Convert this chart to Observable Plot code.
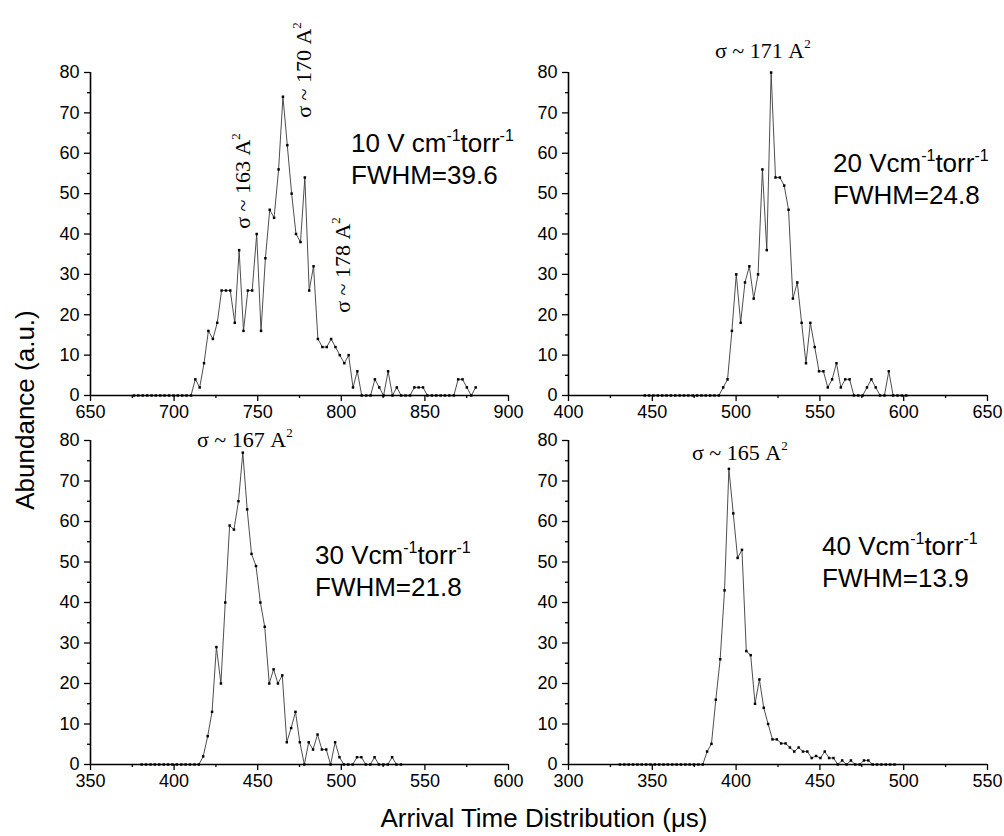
<!DOCTYPE html>
<html><head><meta charset="utf-8">
<script src="https://cdn.jsdelivr.net/npm/d3@7"></script>
<script src="https://cdn.jsdelivr.net/npm/@observablehq/plot@0.6"></script>
<style>
body{margin:0;background:#fff;}
#root{position:relative;width:1004px;height:836px;overflow:hidden;background:#fff;}
.panel{position:absolute;}
#overlay{position:absolute;left:0;top:0;pointer-events:none;}
</style></head>
<body><div id="root"><svg id="overlay" width="1004" height="836"></svg></div>
<script>
// ---------- data ----------
const p10X = [676.0,678.6,681.2,683.9,686.5,689.1,691.7,694.3,697.0,699.6,702.2,704.8,707.4,710.1,712.7,715.3,717.9,720.5,723.2,725.8,728.4,731.0,733.6,736.3,738.9,741.5,744.1,746.7,749.4,752.0,754.6,757.2,759.8,762.5,765.1,767.7,770.3,772.9,775.6,778.2,780.8,783.4,786.0,788.7,791.3,793.9,796.5,799.1,801.8,804.4,807.0,809.6,812.2,814.9,817.5,820.1,822.7,825.3,828.0,830.6,833.2,835.8,838.4,841.1,843.7,846.3,848.9,851.5,854.2,856.8,859.4,862.0,864.6,867.3,869.9,872.5,875.1,877.7,880.4];
const p10Y = [0,0,0,0,0,0,0,0,0,0,0,0,0,0,4,2,8,16,14,18,26,26,26,18,36,16,26,26,40,16,34,46,44,56,74,62,50,40,38,54,26,32,14,12,12,14,12,10,8,10,2,6,0,0,0,4,2,0,6,0,2,0,0,0,2,2,2,0,0,0,0,0,0,0,4,4,2,0,2];

const p20X = [445.5,448.1,450.7,453.3,455.9,458.5,461.1,463.7,466.3,468.9,471.5,474.1,476.7,479.3,481.9,484.5,487.1,489.7,492.3,494.9,497.5,500.1,502.7,505.3,507.9,510.5,513.1,515.7,518.3,520.9,523.5,526.1,528.7,531.3,533.9,536.5,539.1,541.7,544.3,546.9,549.5,552.1,554.7,557.3,559.9,562.5,565.1,567.7,570.3,572.9,575.5,578.1,580.7,583.3,585.9,588.5,591.1,593.7,596.3,598.9,601.5];
const p20Y = [0,0,0,0,0,0,0,0,0,0,0,0,0,0,0,0,0,0,2,4,16,30,18,28,32,24,30,56,36,80,54,54,52,46,24,28,18,8,18,12,6,6,2,4,8,2,4,4,0,0,0,2,4,2,0,0,6,0,0,0,0];

const p30X = [380.6,383.2,385.9,388.5,391.1,393.8,396.4,399.0,401.6,404.3,406.9,409.5,412.2,414.8,417.4,420.1,422.7,425.3,428.0,430.6,433.2,435.8,438.5,441.1,443.7,446.3,449.0,451.6,454.2,456.9,459.5,462.1,464.7,467.4,470.0,472.6,475.2,477.9,480.5,483.1,485.8,488.4,491.0,493.6,496.3,498.9,501.5,504.1,506.8,509.4,512.0,514.7,517.3,519.9,522.5,525.2,527.8,530.4,533.0,535.7];
const p30Y = [0,0,0,0,0,0,0,0,0,0,0,0,0,0,2,7,13,29,20,40,59,58,65,77,63,52,49,40,34,20,23.5,20,22,5.5,9,13,5.5,0,5.5,3.7,7.4,3.7,3.7,0,5.5,1.8,0,0,0,1.8,1.8,0,0,1.8,0,0,0,1.8,0,0];

const p40X = [330.7,333.3,335.9,338.5,341.1,343.7,346.3,348.9,351.5,354.1,356.7,359.3,361.9,364.5,367.1,369.7,372.3,374.9,377.5,380.1,382.7,385.3,387.9,390.5,393.1,395.7,398.3,400.9,403.5,406.1,408.7,411.3,413.9,416.5,419.1,421.7,424.3,426.9,429.5,432.1,434.7,437.3,439.9,442.5,445.1,447.7,450.3,452.9,455.5,458.1,460.7,463.3,465.9,468.5,471.1,473.7,476.3,478.9,481.5,484.1,486.7,489.3,491.9,494.5];
const p40Y = [0,0,0,0,0,0,0,0,0,0,0,0,0,0,0,0,0,0,0,0,3.2,5.1,16,26,43,73,62,51,53,28,27,15,21,14,10,6.2,6.2,5.2,5.2,4.2,3.2,4.2,3.2,3.2,1.6,2.1,1.6,3.2,1.6,1.6,0,1,0,1,0,0,1,1,0,0,0,0,0,0];

const yMajor = [0,10,20,30,40,50,60,70,80];
const yMinor = [5,15,25,35,45,55,65,75];
const x10Major = [650,700,750,800,850,900];
const x10Minor = [675,725,775,825,875];
const x20Major = [400,450,500,550,600,650];
const x20Minor = [425,475,525,575,625];
const x30Major = [350,400,450,500,550,600];
const x30Minor = [375,425,475,525,575];
const x40Major = [300,350,400,450,500,550];
const x40Minor = [325,375,425,475,525];

const fieldLabels = ["10 V cm", "20 Vcm", "30 Vcm", "40 Vcm"];
const fwhmLabels = ["FWHM=39.6", "FWHM=24.8", "FWHM=21.8", "FWHM=13.9"];
const sigmaLabels = ["σ ~ 163 A", "σ ~ 170 A", "σ ~ 178 A", "σ ~ 171 A", "σ ~ 167 A", "σ ~ 165 A"];
const yTitle = "Abundance (a.u.)";
const xTitle = "Arrival Time Distribution (μs)";

// ---------- panels ----------
function panel(cfg) {
  const data = cfg.xs.map((x, i) => ({x, y: cfg.ys[i]}));
  const chart = Plot.plot({
    width: cfg.w, height: cfg.h,
    marginLeft: cfg.ml, marginRight: cfg.mr, marginTop: cfg.mt, marginBottom: cfg.mb,
    x: {domain: cfg.xdom, label: null},
    y: {domain: [0, 80], label: null},
    style: {fontFamily: "'Liberation Sans', Arial, sans-serif", fontSize: "18px", color: "#000", background: "transparent"},
    marks: [
      Plot.axisX(cfg.xMinor, {tickSize: 3, tickFormat: () => "", strokeWidth: 1.3, stroke: "#000"}),
      Plot.axisX(cfg.xMajor, {tickSize: 6, tickPadding: 4, strokeWidth: 1.3, stroke: "#000", fill: "#000"}),
      Plot.axisY(yMinor, {tickSize: 3, tickFormat: () => "", strokeWidth: 1.3, stroke: "#000"}),
      Plot.axisY(yMajor, {tickSize: 6, tickPadding: 5, strokeWidth: 1.3, stroke: "#000", fill: "#000"}),
      Plot.line(data, {x: "x", y: "y", stroke: "#3a3a3a", strokeWidth: 0.9}),
      Plot.dot(data, {x: "x", y: "y", symbol: "square", r: 1.4, fill: "#000", stroke: "none"}),
      Plot.ruleY([0], {stroke: "#000", strokeWidth: 1.6}),
      Plot.ruleX([cfg.xdom[0]], {stroke: "#000", strokeWidth: 1.6})
    ]
  });
  chart.classList.add("panel");
  chart.style.left = cfg.left + "px";
  chart.style.top = cfg.top + "px";
  chart.style.maxWidth = "none";
  document.getElementById("root").insertBefore(chart, document.getElementById("overlay"));
}

panel({xs: p10X, ys: p10Y, xdom: [650, 900], xMajor: x10Major, xMinor: x10Minor,
  left: 0, top: 0, w: 530, h: 430, ml: 90, mr: 22, mt: 72, mb: 35});
panel({xs: p20X, ys: p20Y, xdom: [400, 650], xMajor: x20Major, xMinor: x20Minor,
  left: 530, top: 0, w: 474, h: 430, ml: 38, mr: 17, mt: 72, mb: 35});
panel({xs: p30X, ys: p30Y, xdom: [350, 600], xMajor: x30Major, xMinor: x30Minor,
  left: 0, top: 430, w: 530, h: 380, ml: 90, mr: 22, mt: 10, mb: 46});
panel({xs: p40X, ys: p40Y, xdom: [300, 550], xMajor: x40Major, xMinor: x40Minor,
  left: 530, top: 430, w: 474, h: 380, ml: 38, mr: 17, mt: 10, mb: 46});

// ---------- annotations ----------
const ov = d3.select("#overlay");
const SANS = "'Liberation Sans', Arial, sans-serif";
const SERIF = "'Liberation Serif', 'Times New Roman', serif";

function field(x, y, label, fwhm) {
  const t = ov.append("text").attr("x", x).attr("y", y)
    .attr("font-family", SANS).attr("font-size", 26).attr("fill", "#000");
  t.append("tspan").text(label);
  t.append("tspan").attr("font-size", 16).attr("dy", -11).text("-1");
  t.append("tspan").attr("dy", 11).text("torr");
  t.append("tspan").attr("font-size", 16).attr("dy", -11).text("-1");
  ov.append("text").attr("x", x).attr("y", y + 32)
    .attr("font-family", SANS).attr("font-size", 26).attr("fill", "#000").text(fwhm);
}
function sigma(x, y, label, rotate) {
  const t = ov.append("text")
    .attr("font-family", SERIF).attr("font-size", 22).attr("fill", "#000");
  if (rotate) {
    t.attr("transform", `translate(${x},${y}) rotate(-90)`).attr("text-anchor", "middle").attr("dy", "0.35em");
  } else {
    t.attr("x", x).attr("y", y);
  }
  t.append("tspan").text(label);
  t.append("tspan").attr("font-size", 13).attr("dy", -10).text("2");
}

sigma(242, 181, sigmaLabels[0], true);
sigma(303, 70, sigmaLabels[1], true);
sigma(342, 265, sigmaLabels[2], true);
sigma(715, 58, sigmaLabels[3], false);
sigma(197, 447, sigmaLabels[4], false);
sigma(692, 460, sigmaLabels[5], false);

field(351, 152, fieldLabels[0], fwhmLabels[0]);
field(833, 172, fieldLabels[1], fwhmLabels[1]);
field(315, 564, fieldLabels[2], fwhmLabels[2]);
field(822, 555, fieldLabels[3], fwhmLabels[3]);

ov.append("text").attr("transform", "translate(25,410) rotate(-90)")
  .attr("text-anchor", "middle").attr("dy", "0.35em")
  .attr("font-family", SANS).attr("font-size", 26).attr("fill", "#000").text(yTitle);
ov.append("text").attr("x", 544).attr("y", 827).attr("text-anchor", "middle")
  .attr("font-family", SANS).attr("font-size", 26).attr("fill", "#000").text(xTitle);
</script>
</body></html>
